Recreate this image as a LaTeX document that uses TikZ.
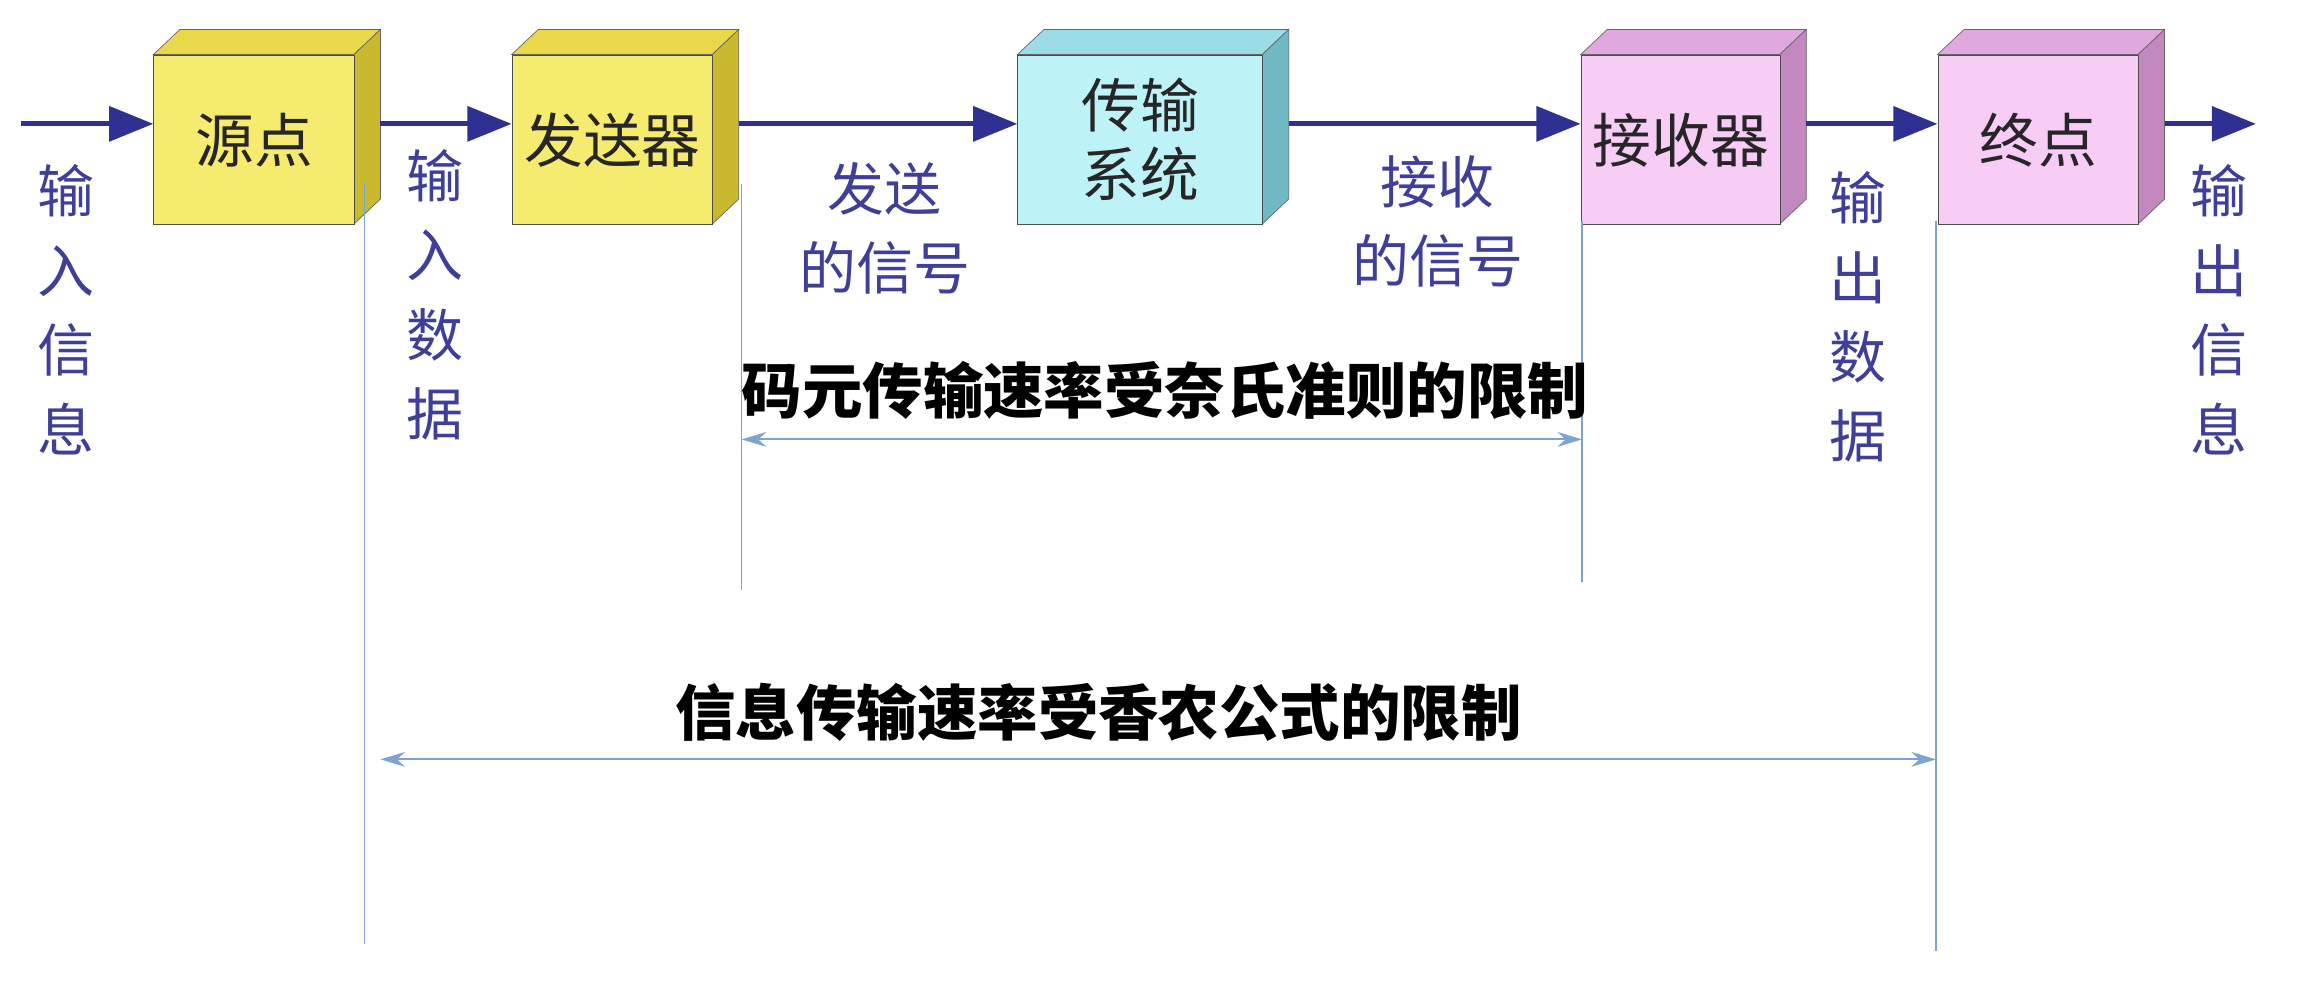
\documentclass[tikz,border=0pt]{standalone}
\usepackage{fontspec}
\newfontfamily\cjk{Noto Sans CJK SC}
\usetikzlibrary{arrows.meta}
\definecolor{yfront}{HTML}{F5EB6E}
\definecolor{ytop}{HTML}{E8D84A}
\definecolor{yside}{HTML}{C9B92E}
\definecolor{cfront}{HTML}{BDF2F7}
\definecolor{ctop}{HTML}{9ADDE6}
\definecolor{cside}{HTML}{6FB9C4}
\definecolor{pfront}{HTML}{F7CCF5}
\definecolor{ptop}{HTML}{E0A8DE}
\definecolor{pside}{HTML}{C288BF}
\definecolor{flowc}{HTML}{2E3192}
\definecolor{labc}{HTML}{3F3F99}
\definecolor{guidec}{HTML}{7DA3CF}
\begin{document}
\begin{tikzpicture}[x=0.3mm,y=-0.3mm,
  face/.style={draw=black!70,line width=0.6pt,minimum height=34.5mm,inner sep=0pt,font=\cjk\fontsize{34}{40}\selectfont,text=black!85,align=center},
  flow/.style={draw=flowc,line width=3pt,-{Triangle[length=9mm,width=7mm]}},
  lab/.style={font=\cjk\fontsize{33}{46}\selectfont,text=labc,align=center},
  guide/.style={draw=guidec,line width=0.8pt},
  dim/.style={guide,line width=1.2pt,{Stealth[length=5mm,width=3mm]}-{Stealth[length=5mm,width=3mm]}},
  note/.style={font=\cjk\bfseries\fontsize{35}{40}\selectfont,text=black}]
\useasboundingbox (0,0) rectangle (1568,673);
\fill[white] (0,0) rectangle (1568,673);
\newcommand\cube[7]{% name, x1, x2, front, top, side, text
  \fill[#5,draw=black!60] (#2,37)--(#2+18,20)--(#3+18,20)--(#3,37)--cycle;
  \fill[#6,draw=black!60] (#3,37)--(#3+18,20)--(#3+18,135)--(#3,152)--cycle;
  \node[face,fill=#4,minimum width={(#3-#2)*0.3mm},anchor=north west] (#1) at (#2,37) {#7};
  \coordinate (#1o) at (#3+18,84);
}
\cube{src}{104}{240}{yfront}{ytop}{yside}{源点}
\cube{tx}{347}{483}{yfront}{ytop}{yside}{发送器}
\cube{ch}{690}{856}{cfront}{ctop}{cside}{传输\\系统}
\cube{rx}{1072}{1207}{pfront}{ptop}{pside}{接收器}
\cube{dst}{1314}{1450}{pfront}{ptop}{pside}{终点}
\coordinate (in) at (14,84);
\coordinate (out) at (1530,84);
\draw[flow] (in) -- (src.west |- in);
\draw[flow] (srco) -- (tx.west |- in);
\draw[flow] (txo) -- (ch.west |- in);
\draw[flow] (cho) -- (rx.west |- in);
\draw[flow] (rxo) -- (dst.west |- in);
\draw[flow] (dsto) -- (out);
\node[lab] (l1) at (45,210) {输\\入\\信\\息};
\node[lab] (l2) at (295,200) {输\\入\\数\\据};
\node[lab] (l3) at (600,155) {发送\\的信号};
\node[lab] (l4) at (975,150) {接收\\的信号};
\node[lab] (l5) at (1260,215) {输\\出\\数\\据};
\node[lab] (l6) at (1505,210) {输\\出\\信\\息};
\coordinate (a1) at (247,125); \coordinate (a2) at (247,640);
\coordinate (b1) at (503,125); \coordinate (b2) at (503,400);
\coordinate (c1) at (1073,150); \coordinate (c2) at (1073,395);
\coordinate (d1) at (1313,150); \coordinate (d2) at (1313,645);
\draw[guide] (a1)--(a2); \draw[guide] (b1)--(b2);
\draw[guide] (c1)--(c2); \draw[guide] (d1)--(d2);
\coordinate (e1) at (503,298); \coordinate (e2) at (1073,298);
\coordinate (f1) at (258,515); \coordinate (f2) at (1313,515);
\draw[dim] (e1)--(e2);
\draw[dim] (f1)--(f2);
\node[note] (n1) at (790,265) {码元传输速率受奈氏准则的限制};
\node[note] (n2) at (745,483) {信息传输速率受香农公式的限制};
\end{tikzpicture}
\end{document}
